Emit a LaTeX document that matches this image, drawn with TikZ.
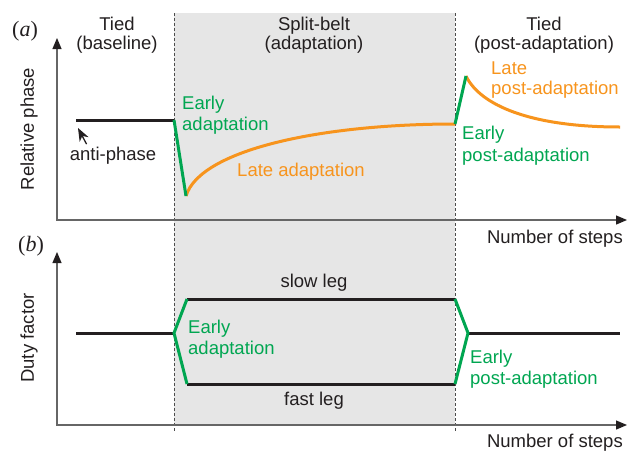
\documentclass[tikz,border=0pt]{standalone}
\usepackage{fontspec}
\setmainfont{Liberation Sans}
\newfontfamily\tagfont{Liberation Serif}
\usetikzlibrary{arrows.meta}

\definecolor{earlygreen}{RGB}{0,166,81}
\definecolor{lateorange}{RGB}{247,148,29}
\definecolor{beltgray}{RGB}{230,230,230}
\definecolor{inkblack}{RGB}{35,31,32}

\newcommand{\paneltag}[1]{{\fontsize{22}{24}\tagfont(\textit{#1})}}

\tikzset{
  axis/.style={line width=1.2pt, draw=black!60,
    {Triangle[length=11pt,width=9pt,color=inkblack]}-{Triangle[length=11pt,width=9pt,color=inkblack]}},
  divider/.style={line width=1pt, draw=black!70, dash pattern=on 3pt off 2pt},
  level/.style={line width=3pt, draw=inkblack},
  early/.style={line width=3pt, draw=earlygreen},
  late/.style={line width=3pt, draw=lateorange},
  pointer/.style={line width=1.3pt, draw=inkblack, -{Stealth[length=13pt,width=10pt,inset=4pt]}},
  lbl/.style={inner sep=0pt, align=left, text=inkblack},
  heading/.style={lbl, align=center, font=\fontsize{18.5}{19}\selectfont},
}

\begin{document}
\begin{tikzpicture}[x=1pt, y=-1pt, font=\fontsize{18.5}{21.5}\selectfont]
\useasboundingbox (0,0) rectangle (628,453);

% split-belt period, shaded over both panels
\fill[beltgray] (174,13) rectangle (455,425);
\draw[divider] (174,13) -- (174,432);
\draw[divider] (455,13) -- (455,432);

% column headings
\node[heading] (tied1) at (117,35) {Tied\\(baseline)};
\node[heading] (split) at (314,35) {Split-belt\\(adaptation)};
\node[heading] (tied2) at (544,35) {Tied\\(post-adaptation)};

% ---- (a) relative phase ----
\node[lbl] (tag-a) at (25,31) {\paneltag{a}};
\coordinate (a-ytip) at (57,38);
\coordinate (a-origin) at (57,220);
\coordinate (a-xtip) at (627,220);
\draw[axis] (a-ytip) -- (a-origin) -- (a-xtip);
\node[lbl, rotate=90] (relphase) at (29,129) {Relative phase};
\node[lbl, anchor=east] (steps-a) at (623,239) {Number of steps};

\coordinate (a-base0) at (76,120);
\coordinate (a-base1) at (174,120);
\coordinate (a-drop) at (186,196);
\coordinate (a-late) at (455,124);
\coordinate (a-jump) at (466,76);
\coordinate (a-end) at (620,127);

\draw[level] (a-base0) -- (a-base1);
\draw[late] (a-drop) .. controls (200,150) and (320,124) .. (a-late);
\draw[late] (a-jump) .. controls (480,105) and (530,127) .. (a-end);
\draw[early] (a-base1) -- (a-drop);
\draw[early] (a-late) -- (a-jump);

\node[lbl] (antiphase) at (113,156) {anti-phase};
\coordinate (antitip) at (78,128);
\draw[pointer] ([shift={(17,-3)}]antiphase.north west) -- (antitip);

\node[lbl, anchor=west, text=earlygreen] (early-a) at (182,115) {Early\\adaptation};
\node[lbl, text=lateorange] (late-a) at (301,172) {Late adaptation};
\node[lbl, anchor=west, text=lateorange, font=\fontsize{18.5}{20}\selectfont] (latepost-a) at (491,80) {Late\\post-adaptation};
\node[lbl, anchor=west, text=earlygreen, font=\fontsize{18.5}{22}\selectfont] (earlypost-a) at (462,146) {Early\\post-adaptation};

% ---- (b) duty factor ----
\node[lbl] (tag-b) at (31,246) {\paneltag{b}};
\coordinate (b-ytip) at (57,252);
\coordinate (b-origin) at (57,425);
\coordinate (b-xtip) at (627,425);
\draw[axis] (b-ytip) -- (b-origin) -- (b-xtip);
\node[lbl, rotate=90] (duty) at (29,338) {Duty factor};
\node[lbl, anchor=east] (steps-b) at (623,443) {Number of steps};

\coordinate (b-base0) at (76,333);
\coordinate (b-base1) at (174,333);
\coordinate (slow0) at (187,299);
\coordinate (slow1) at (455,299);
\coordinate (fast0) at (187,384);
\coordinate (fast1) at (455,384);
\coordinate (b-meet) at (468,333);
\coordinate (b-end) at (620,333);

\draw[level] (b-base0) -- (b-base1);
\draw[level] (slow0) -- (slow1);
\draw[level] (fast0) -- (fast1);
\draw[level] (b-meet) -- (b-end);
\draw[early, line join=miter] (slow0) -- (b-base1) -- (fast0);
\draw[early, line join=miter] (slow1) -- (b-meet) -- (fast1);

\node[lbl] (slowleg) at (314,283) {slow leg};
\node[lbl] (fastleg) at (314,401) {fast leg};
\node[lbl, anchor=west, text=earlygreen] (early-b) at (188,339) {Early\\adaptation};
\node[lbl, anchor=west, text=earlygreen] (earlypost-b) at (470,369) {Early\\post-adaptation};
\end{tikzpicture}
\end{document}
